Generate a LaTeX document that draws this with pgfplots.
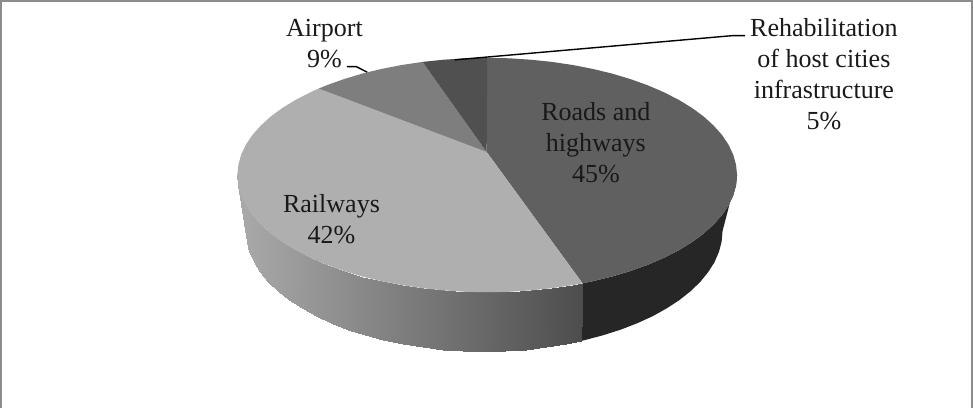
\documentclass[border=0pt]{standalone}
\usepackage{pgfplots}
\pgfplotsset{compat=1.18}
\usepackage{fontspec}
\setmainfont{Liberation Serif}
\tikzset{slicelabel/.style={font=\fontsize{26}{31}\selectfont, align=center, text=black!90, inner sep=0pt}}
\begin{document}
\begin{tikzpicture}
\begin{axis}[
  scale only axis, width=973pt, height=409pt,
  xmin=0, xmax=973, ymin=-1, ymax=408, y dir=reverse,
  axis lines=none, clip=true,
  colormap={grayramp}{gray(0cm)=(0); gray(1cm)=(1)},
  point meta min=0, point meta max=100,
]
% outer frame of the chart area, open at the bottom
\addplot[draw=black!45, line width=2pt] coordinates {(2,409) (2,2.2) (971.6,2.2) (971.6,409)};

% rim of the roads and highways slice
\addplot[fill=black!85, draw=none] coordinates {
 (737.0,176.0) (736.0,186.2) (733.2,196.3) (728.5,206.3) (722.0,216.0) (713.6,225.4)
 (703.6,234.5) (691.9,243.1) (678.6,251.2) (663.9,258.7) (647.9,265.6) (630.6,271.8)
 (612.3,277.3) (592.9,282.0) (582.7,284.1)
 (581.0,341.7) (585.1,340.8) (603.5,335.9) (621.0,330.3) (637.5,323.9) (652.8,316.9)
 (666.8,309.1) (679.5,300.8) (690.6,292.0) (700.2,282.7) (708.1,273.0) (714.4,263.1)
 (718.9,252.8) (721.6,242.5) (722.5,232.0)} -- cycle;

% rim of the railways slice, lit from the left: four corners with their grey levels
\addplot[patch, patch type=rectangle, shader=interp, point meta=explicit]
 table[meta=m] {
x y m
582.7 284.1 30.2
572.8 285.9 31.3
565.9 344.8 32.0
581.0 341.7 30.4
572.8 285.9 31.3
552.1 289.0 33.4
546.1 347.9 34.1
565.9 344.8 32.0
552.1 289.0 33.4
530.8 291.2 35.7
525.8 350.2 36.2
546.1 347.9 34.1
530.8 291.2 35.7
509.2 292.6 38.0
505.2 351.5 38.4
525.8 350.2 36.2
509.2 292.6 38.0
487.5 293.0 40.3
484.5 352.0 40.6
505.2 351.5 38.4
487.5 293.0 40.3
465.8 292.6 42.6
463.8 351.5 42.8
484.5 352.0 40.6
465.8 292.6 42.6
444.2 291.2 44.9
443.2 350.2 45.0
463.8 351.5 42.8
444.2 291.2 44.9
422.9 289.0 47.1
422.9 347.9 47.1
443.2 350.2 45.0
422.9 289.0 47.1
402.2 285.9 49.3
403.1 344.8 49.2
422.9 347.9 47.1
402.2 285.9 49.3
382.1 282.0 51.5
383.9 340.8 51.3
403.1 344.8 49.2
382.1 282.0 51.5
362.7 277.3 53.5
365.5 335.9 53.2
383.9 340.8 51.3
362.7 277.3 53.5
344.4 271.8 55.5
348.0 330.3 55.1
365.5 335.9 53.2
344.4 271.8 55.5
327.1 265.6 57.3
331.5 323.9 56.8
348.0 330.3 55.1
327.1 265.6 57.3
311.1 258.7 59.0
316.2 316.9 58.5
331.5 323.9 56.8
311.1 258.7 59.0
296.4 251.2 60.6
302.2 309.1 59.9
316.2 316.9 58.5
296.4 251.2 60.6
283.1 243.1 62.0
289.5 300.8 61.3
302.2 309.1 59.9
283.1 243.1 62.0
271.4 234.5 63.2
278.4 292.0 62.5
289.5 300.8 61.3
271.4 234.5 63.2
261.4 225.4 64.3
268.8 282.7 63.5
278.4 292.0 62.5
261.4 225.4 64.3
253.0 216.0 65.2
260.9 273.0 64.3
268.8 282.7 63.5
253.0 216.0 65.2
246.5 206.3 65.8
254.6 263.1 65.0
260.9 273.0 64.3
246.5 206.3 65.8
241.8 196.3 66.3
250.1 252.8 65.5
254.6 263.1 65.0
241.8 196.3 66.3
239.0 186.2 66.6
247.4 242.5 65.7
250.1 252.8 65.5
239.0 186.2 66.6
238.0 176.0 66.7
246.5 232.0 65.8
247.4 242.5 65.7
};

% top face: roads and highways
\addplot[fill={rgb,255:red,96;green,96;blue,96}, draw=none] coordinates {
 (487.0,153.0)
 (487.5,59.0) (509.2,59.4) (530.8,60.8) (552.1,63.0) (572.8,66.1) (592.9,70.0) (612.3,74.7)
 (630.6,80.2) (647.9,86.4) (663.9,93.3) (678.6,100.8) (691.9,108.9) (703.6,117.5)
 (713.6,126.6) (722.0,136.0) (728.5,145.7) (733.2,155.7) (736.0,165.8) (737.0,176.0)
 (736.0,186.2) (733.2,196.3) (728.5,206.3) (722.0,216.0) (713.6,225.4) (703.6,234.5)
 (691.9,243.1) (678.6,251.2) (663.9,258.7) (647.9,265.6) (630.6,271.8) (612.3,277.3)
 (592.9,282.0) (582.7,284.1)} -- cycle;

% top face: railways
\addplot[fill={rgb,255:red,175;green,175;blue,175}, draw=none] coordinates {
 (487.0,153.0)
 (582.7,284.1) (572.8,285.9) (552.1,289.0) (530.8,291.2) (509.2,292.6) (487.5,293.0)
 (465.8,292.6) (444.2,291.2) (422.9,289.0) (402.2,285.9) (382.1,282.0) (362.7,277.3)
 (344.4,271.8) (327.1,265.6) (311.1,258.7) (296.4,251.2) (283.1,243.1) (271.4,234.5)
 (261.4,225.4) (253.0,216.0) (246.5,206.3) (241.8,196.3) (239.0,186.2) (238.0,176.0)
 (239.0,165.8) (241.8,155.7) (246.5,145.7) (253.0,136.0) (261.4,126.6) (271.4,117.5)
 (283.1,108.9) (296.4,100.8) (311.1,93.3) (319.3,89.6)} -- cycle;

% top face: airport
\addplot[fill={rgb,255:red,126;green,126;blue,126}, draw=none] coordinates {
 (487.0,153.0)
 (319.3,89.6) (327.1,86.4) (344.4,80.2) (362.7,74.7) (382.1,70.0) (402.2,66.1) (422.9,63.0)} -- cycle;

% top face: rehabilitation of host cities infrastructure
\addplot[fill={rgb,255:red,80;green,80;blue,80}, draw=none] coordinates {
 (487.0,153.0)
 (422.9,63.0) (444.2,60.8) (465.8,59.4) (487.5,59.0)} -- cycle;

% leader lines
\addplot[black, line width=1.4pt] coordinates {(347.3,67.7) (356.7,67.7) (367.7,73.3)};
\addplot[black, line width=1.4pt] coordinates {(455,61) (733.3,36.7) (745,36.7)};

% slice labels
\node[slicelabel] at (axis cs:325,45) {Airport\\9\%};
\node[slicelabel] at (axis cs:823.7,75.5) {Rehabilitation\\of host cities\\infrastructure\\5\%};
\node[slicelabel] at (axis cs:596,144) {Roads and\\highways\\45\%};
\node[slicelabel] at (axis cs:332,220) {Railways\\42\%};
\end{axis}
\end{tikzpicture}
\end{document}
